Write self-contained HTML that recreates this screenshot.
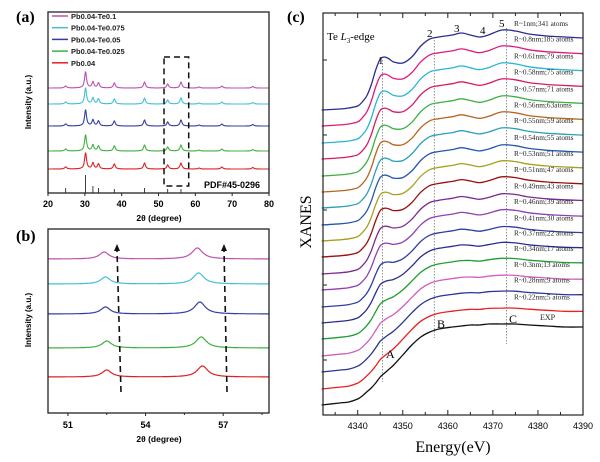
<!DOCTYPE html>
<html><head><meta charset="utf-8"><style>
body{margin:0;background:#fff}
svg{display:block}
.s{font-family:"Liberation Sans",sans-serif;font-weight:bold}
.r{font-family:"Liberation Serif",serif}
</style></head><body>
<svg id="c" width="600" height="462" viewBox="0 0 600 462" xmlns="http://www.w3.org/2000/svg">
<g id="pa"></g>
<g id="pb"></g>
<g id="pc"></g>
</svg>
<script>
// ---- Panel (a) data ----
const aSeriesNames=["Pb0.04-Te0.1","Pb0.04-Te0.075","Pb0.04-Te0.05","Pb0.04-Te0.025","Pb0.04"];
const aColors=["#c050b0","#40c0d8","#3040a0","#40b040","#e02020"];
const aBaselines=[88,104,126,151,169];
const aPeakPos=[24.8,30.2,32.2,33.7,38.0,46.2,52.5,56.1,61.0,67.2,75.6];
const aPeakH=[2,16,6,5,5,6,4,6,1,2,1.5];
const aStickPos=[24.8,30.2,32.2,33.7,38.0,46.2,52.5,56.1];
const aStickH=[5,18,7,5,4,5,4,4];
const aTicks=[20,30,40,50,60,70,80];
// ---- Panel (b) data ----
const bBaselines=[259,284,314,348,377];
const bPeak1=[52.4,52.45,52.45,52.5,52.5];
const bPeak2=[56.0,56.05,56.1,56.15,56.2];
const bH1=[7,7,7,7,7];
const bH2=[11,11,12,11,11];
const bTicks=[51,54,57];
// ---- Panel (c) data ----
const cEnergies=[4332,4336,4338,4340,4341,4342,4343,4344,4345,4346,4347,4348,4350,4352,4354,4356,4358,4361,4363,4365,4367,4369,4372,4375,4378,4382,4386,4390];
const cPeaky=[0,1,2,4,8,14,25,40,51,53,51,48,47,53,64,71,73,75,77,75,73,75,80,79,76,74,73,72];
const cSmooth=[0,2,3,6,9,13,17,22,28,32,36,40,50,60,68,73,76,78,79,80,80,81,81,81,80,79,78,78];
const cLabels=["R~1nm;341 atoms","R~0.8nm;185 atoms","R~0.61nm;79 atoms","R~0.58nm;75 atoms","R~0.57nm;71 atoms","R~0.56nm;63atoms","R~0.55nm;59 atoms","R~0.54nm;55 atoms","R~0.53nm;51 atoms","R~0.51nm;47 atoms","R~0.49nm;43 atoms","R~0.46nm;39 atoms","R~0.41nm;30 atoms","R~0.37nm;22 atoms","R~0.34nm;17 atoms","R~0.3nm;13 atoms","R~0.28nm;9 atoms","R~0.22nm;5 atoms","EXP"];
const cOffsets=[295,279,262,246,229,213,197,180,164,148,131,115,98,82,66,49,33,16,0];
const cWeights=[1,0.95,0.95,0.9,0.9,0.9,0.85,0.85,0.8,0.8,0.75,0.7,0.6,0.45,0.3,0.2,0.12,0.06,0];
const cColors=["#2b2d8f","#e0197d","#29b5d6","#d81b60","#3cb043","#b5651d","#2aa0b8","#2456b0","#a8a020","#9a1010","#7b2a8f","#9040b0","#3040a0","#2b2d8f","#1e9e30","#d060c0","#2a3590","#e82020","#111111"];
const cTicks=[4340,4350,4360,4370,4380,4390];

const NS="http://www.w3.org/2000/svg";
function mk(tag,parent,attrs){const e=document.createElementNS(NS,tag);for(const k in attrs)e.setAttribute(k,attrs[k]);parent.appendChild(e);return e;}
function lor(x,p,h,w){return h/(1+((x-p)/w)*((x-p)/w));}
function smoothPath(pts){
 let d="M"+pts[0][0].toFixed(1)+","+pts[0][1].toFixed(1);
 for(let i=0;i<pts.length-1;i++){
  const p0=pts[Math.max(0,i-1)],p1=pts[i],p2=pts[i+1],p3=pts[Math.min(pts.length-1,i+2)];
  const c1=[p1[0]+(p2[0]-p0[0])/6,p1[1]+(p2[1]-p0[1])/6];
  const c2=[p2[0]-(p3[0]-p1[0])/6,p2[1]-(p3[1]-p1[1])/6];
  d+="C"+c1[0].toFixed(1)+","+c1[1].toFixed(1)+" "+c2[0].toFixed(1)+","+c2[1].toFixed(1)+" "+p2[0].toFixed(1)+","+p2[1].toFixed(1);
 }
 return d;
}

// ---------- Panel a ----------
(function(){
const g=document.getElementById('pa');
const X0=48,X1=269,Y0=12,Y1=193;
const xs=v=>X0+(v-20)/(80-20)*(X1-X0);
aSeriesNames.forEach((n,i)=>{
 let d="";
 for(let x=20;x<=80;x+=0.08){let y=aBaselines[i];aPeakPos.forEach((p,k)=>{y-=lor(x,p,aPeakH[k],0.32);});d+=(d?"L":"M")+xs(x).toFixed(1)+","+y.toFixed(1);}
 const p=mk('path',g,{d:d,fill:"none",stroke:aColors[i],"stroke-width":1.1});
 
 
 const ly=16+i*11.7;
 const l=mk('line',g,{x1:52,x2:68,y1:ly,y2:ly,stroke:aColors[i],"stroke-width":1.5});
 
 
 const t=mk('text',g,{x:71,y:ly+3,"font-size":7.5,class:"s",fill:"#222"});t.textContent=n;
 
 
});
aStickPos.forEach((p,k)=>{const l=mk('line',g,{x1:xs(p),x2:xs(p),y1:Y1,y2:Y1-aStickH[k],stroke:"#111","stroke-width":0.8});
 
 });
const box=mk('rect',g,{x:X0,y:Y0,width:X1-X0,height:Y1-Y0,fill:"none",stroke:"#222","stroke-width":1.3});

const db=mk('rect',g,{x:xs(51.5),y:57,width:xs(58.2)-xs(51.5),height:129,fill:"none",stroke:"#111","stroke-width":1.5,"stroke-dasharray":"6,4"});

aTicks.forEach(v=>{mk('line',g,{x1:xs(v),x2:xs(v),y1:Y1,y2:Y1+3,stroke:"#222"});
 const t=mk('text',g,{x:xs(v),y:207,"font-size":9,class:"s","text-anchor":"middle"});t.textContent=v;
 });
let t=mk('text',g,{x:232,y:188,"font-size":9,class:"s","text-anchor":"middle"});t.textContent="PDF#45-0296";

t=mk('text',g,{x:159,y:221,"font-size":8.5,class:"s","text-anchor":"middle"});t.textContent="2θ (degree)";

t=mk('text',g,{x:0,y:0,"font-size":8,class:"s","text-anchor":"middle",transform:"translate(31,102) rotate(-90)"});t.textContent="Intensity (a.u.)";

t=mk('text',g,{x:16,y:22,"font-size":16,class:"r","font-weight":"bold"});t.textContent="(a)";

})();

// ---------- Panel b ----------
(function(){
const g=document.getElementById('pb');
const X0=48,X1=269,Y0=229,Y1=413;
const xs=v=>X0+(v-50.23)/(58.77-50.23)*(X1-X0);
bBaselines.forEach((b,i)=>{
 let d="";
 for(let x=50.23;x<=58.77;x+=0.03){const y=b-lor(x,bPeak1[i],bH1[i],0.22)-lor(x,bPeak2[i],bH2[i],0.25);d+=(d?"L":"M")+xs(x).toFixed(1)+","+y.toFixed(1);}
 const p=mk('path',g,{d:d,fill:"none",stroke:aColors[i],"stroke-width":1.2});
 
 
});
[[121,392,117,244],[227,392,224,244]].forEach((a,k)=>{
 const l=mk('line',g,{x1:a[0],y1:a[1],x2:a[2],y2:a[3]+6,stroke:"#111","stroke-width":1.6,"stroke-dasharray":"6,4"});
 
 mk('polygon',g,{points:`${a[2]-3},${a[3]+7} ${a[2]+3},${a[3]+7} ${a[2]},${a[3]}`,fill:"#111"});
});
const box=mk('rect',g,{x:X0,y:Y0,width:X1-X0,height:Y1-Y0,fill:"none",stroke:"#222","stroke-width":1.3});

for(let v=51;v<=58.5;v+=1.5){mk('line',g,{x1:xs(v),x2:xs(v),y1:Y1,y2:Y1+(v%3===0?3:2),stroke:"#222"});}
bTicks.forEach(v=>{const t=mk('text',g,{x:xs(v),y:428,"font-size":9,class:"s","text-anchor":"middle"});t.textContent=v;
 });
let t=mk('text',g,{x:159,y:442,"font-size":8.5,class:"s","text-anchor":"middle"});t.textContent="2θ (degree)";

t=mk('text',g,{x:0,y:0,"font-size":8,class:"s","text-anchor":"middle",transform:"translate(31,320) rotate(-90)"});t.textContent="Intensity (a.u.)";

t=mk('text',g,{x:16,y:241,"font-size":16,class:"r","font-weight":"bold"});t.textContent="(b)";

})();

// ---------- Panel c ----------
(function(){
const g=document.getElementById('pc');
const X0=323,X1=583,Y0=13,Y1=415;
const xs=v=>X0+(v-4332.3)/(4390-4332.3)*(X1-X0);
const ys=v=>405-v;
[[4345.5,60,382],[4357,37,338],[4373,28,344]].forEach(a=>{
 const l=mk('line',g,{x1:xs(a[0]),x2:xs(a[0]),y1:a[1],y2:a[2],stroke:"#777","stroke-width":0.8,"stroke-dasharray":"1.5,1.5"});
 
});
cOffsets.forEach((o,i)=>{
 const w=cWeights[i];const pts=[];
 cEnergies.forEach((e,k)=>{
  const v=o+w*cPeaky[k]+(1-w)*cSmooth[k];
  pts.push([xs(e),ys(v)]);
 });
 const p=mk('path',g,{d:smoothPath(pts),fill:"none",stroke:cColors[i],"stroke-width":1.3,"stroke-linejoin":"round"});
 
 
 const last=o+w*cPeaky[cPeaky.length-1]+(1-w)*cSmooth[cSmooth.length-1];
 const isExp=i===cOffsets.length-1;
 const t=mk('text',g,{x:isExp?540:514,y:isExp?ys(last)-7:ys(last)-12,"font-size":isExp?8:7.3,class:"r",fill:"#222"});
 t.textContent=cLabels[i];
 
 
});
const box=mk('rect',g,{x:X0,y:Y0,width:X1-X0,height:Y1-Y0,fill:"none",stroke:"#222","stroke-width":1.2});

for(let v=4335;v<=4390;v+=5){const big=v%10===0;
 mk('line',g,{x1:xs(v),x2:xs(v),y1:Y1,y2:Y1-(big?5:3),stroke:"#222"});
 mk('line',g,{x1:xs(v),x2:xs(v),y1:Y0,y2:Y0+(big?5:3),stroke:"#222"});}
for(let y=60;y<Y1;y+=75){mk('line',g,{x1:X0,x2:X0+4,y1:y,y2:y,stroke:"#222"});}
cTicks.forEach(v=>{const t=mk('text',g,{x:xs(v),y:429,"font-size":9,class:"s","text-anchor":"middle"});t.textContent=v;
 t.style.fontWeight="normal";
 });
const labs=[["1",378,64,11],["2",427,37,11],["3",454,32,11],["4",480,34,11],["5",499,27,11],["A",386,358,12],["B",437,328,12],["C",509,323,12]];
labs.forEach(a=>{const t=mk('text',g,{x:a[1],y:a[2],"font-size":a[3],class:"r"});t.textContent=a[0];
 });
let t=mk('text',g,{x:327,y:40,"font-size":11,class:"r"});
t.innerHTML='Te <tspan font-style="italic">L</tspan><tspan font-size="7" dy="3">3</tspan><tspan dy="-3">-edge</tspan>';

t=mk('text',g,{x:453,y:452,"font-size":16,class:"r","text-anchor":"middle"});t.textContent="Energy(eV)";

t=mk('text',g,{x:0,y:0,"font-size":16,class:"r","text-anchor":"middle",transform:"translate(311,222) rotate(-90)"});t.textContent="XANES";

t=mk('text',g,{x:287,y:22,"font-size":16,class:"r","font-weight":"bold"});t.textContent="(c)";

})();
</script>
</body></html>
